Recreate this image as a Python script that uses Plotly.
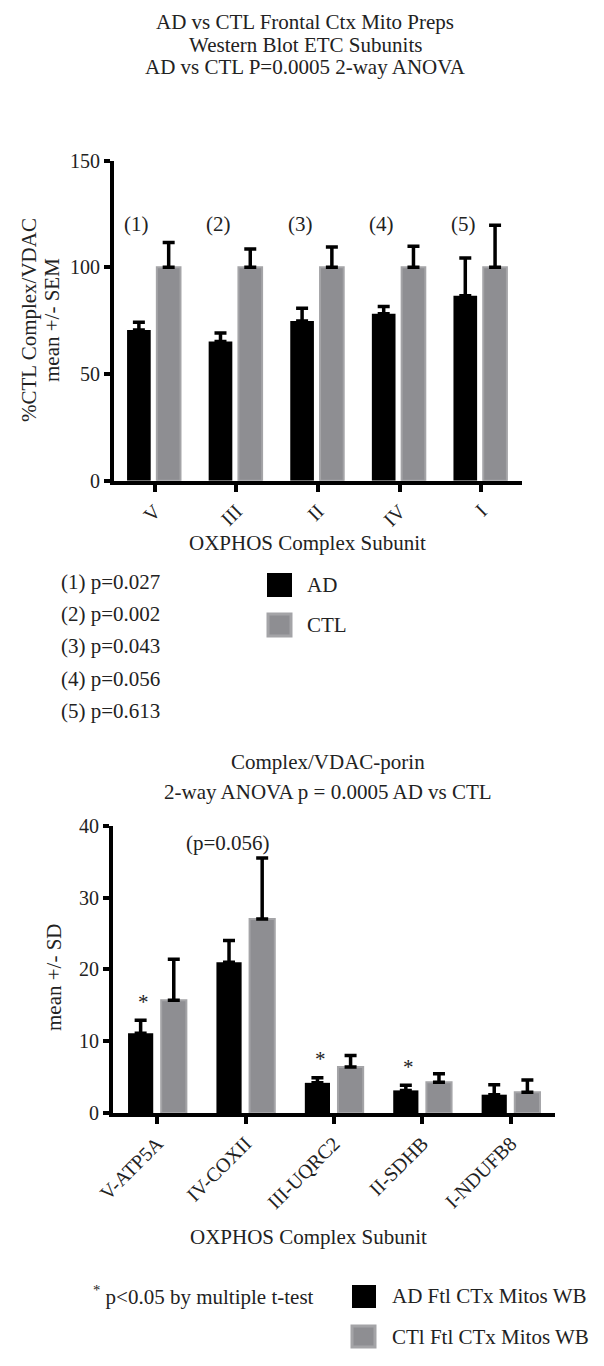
import plotly.graph_objects as go

W, H = 604, 1366
FONT = "Liberation Serif"

# ---------- data: top chart ----------
top_categories = ["V", "III", "II", "IV", "I"]
top_ad = [70.6, 65.3, 74.9, 78.3, 86.7]
top_ad_err = [3.7, 3.9, 5.9, 3.4, 17.7]
top_ctl = [100, 100, 100, 100, 100]
top_ctl_err = [11.7, 8.6, 9.6, 9.9, 19.7]
top_marks = ["(1)", "(2)", "(3)", "(4)", "(5)"]
top_pvalues = ["(1) p=0.027", "(2) p=0.002", "(3) p=0.043", "(4) p=0.056", "(5) p=0.613"]

# ---------- data: bottom chart ----------
bot_categories = ["V-ATP5A", "IV-COXII", "III-UQRC2", "II-SDHB", "I-NDUFB8"]
bot_ad = [11.1, 21.0, 4.2, 3.15, 2.55]
bot_ad_err = [1.8, 3.0, 0.7, 0.7, 1.4]
bot_ctl = [15.7, 27.0, 6.4, 4.27, 2.9]
bot_ctl_err = [5.7, 8.5, 1.6, 1.2, 1.7]
bot_star = ["*", "", "*", "*", ""]

BLACK = "#000000"
GRAY = "#8e8e92"
GRAY_EDGE = "#a4a4a7"


def px_x(px):
    return px / W


def px_y(py):
    return 1 - py / H


fig = go.Figure()


def add_pair(cats, ad, ad_err, ctl, ctl_err, xa, ya, ad_off, ctl_off, wd):
    fig.add_trace(go.Bar(
        x=cats, y=ad, xaxis=xa, yaxis=ya, width=wd, offset=ad_off,
        marker=dict(color=BLACK, line=dict(color=BLACK, width=0)),
        error_y=dict(type="data", symmetric=False, array=ad_err,
                     arrayminus=[0] * len(ad_err), color=BLACK,
                     thickness=3.5, width=6),
        showlegend=False, hoverinfo="skip"))
    fig.add_trace(go.Bar(
        x=cats, y=ctl, xaxis=xa, yaxis=ya, width=wd, offset=ctl_off,
        marker=dict(color=GRAY, line=dict(color=GRAY_EDGE, width=2)),
        error_y=dict(type="data", symmetric=False, array=ctl_err,
                     arrayminus=[0] * len(ctl_err), color=BLACK,
                     thickness=3.5, width=6),
        showlegend=False, hoverinfo="skip"))


add_pair(top_categories, top_ad, top_ad_err, top_ctl, top_ctl_err, "x", "y",
         -0.34, 0.025, 0.29)
add_pair(bot_categories, bot_ad, bot_ad_err, bot_ctl, bot_ctl_err, "x2", "y2",
         -0.33, 0.045, 0.285)

axis_common = dict(
    showline=True, linecolor=BLACK, linewidth=4, ticks="outside",
    tickcolor=BLACK, tickwidth=4, showgrid=False, zeroline=False,
    automargin=False, fixedrange=True,
    tickfont=dict(family=FONT, size=20, color="#222"),
)

fig.update_layout(
    template="none",
    width=W, height=H, margin=dict(l=0, r=0, t=0, b=0, pad=0),
    paper_bgcolor="white", plot_bgcolor="white", barmode="overlay",
    font=dict(family=FONT, color="#222"),
    xaxis=dict(domain=[px_x(114), px_x(522)], anchor="y", range=[-0.5, 4.5],
               tickangle=-45, ticklen=7, **axis_common),
    yaxis=dict(domain=[px_y(480.7), px_y(160.7)], anchor="x", range=[0, 150],
               tickvals=[0, 50, 100, 150], ticklen=6, **axis_common),
    xaxis2=dict(domain=[px_x(113), px_x(555)], anchor="y2", range=[-0.5, 4.5],
                tickangle=-45, ticklen=7, **axis_common),
    yaxis2=dict(domain=[px_y(1113), px_y(825.7)], anchor="x2", range=[0, 40],
                tickvals=[0, 10, 20, 30, 40], ticklen=6, **axis_common),
)

ann = []
TXT = dict(family=FONT, size=21, color="#222")


def pann(text, x, y, xanchor="center", yanchor="middle", font=TXT, **kw):
    ann.append(dict(text=text, x=px_x(x), y=px_y(y), xref="paper", yref="paper",
                    xanchor=xanchor, yanchor=yanchor, showarrow=False,
                    font=font, **kw))


# titles
pann("AD vs CTL Frontal Ctx Mito Preps", 305, 22)
pann("Western Blot ETC Subunits", 305, 44.5)
pann("AD vs CTL P=0.0005 2-way ANOVA", 305, 67)
pann("Complex/VDAC-porin", 328, 762)
pann("2-way ANOVA p = 0.0005 AD vs CTL", 328, 792)
# axis titles
pann("%CTL Complex/VDAC", 29, 320, textangle=-90)
pann("mean +/- SEM", 52, 320, textangle=-90)
pann("OXPHOS Complex Subunit", 307, 543)
pann("mean +/- SD", 54, 977, textangle=-90)
pann("OXPHOS Complex Subunit", 308, 1237)

# top markers
for c, m in zip(top_categories, top_marks):
    ann.append(dict(text=m, x=c, y=120.3, xref="x", yref="y", xshift=-18,
                    xanchor="center", yanchor="middle", showarrow=False, font=TXT))
# bottom stars
for c, s, v, e in zip(bot_categories, bot_star, bot_ad, bot_ad_err):
    if s:
        ann.append(dict(text=s, x=c, y=v + e + 2.6, xref="x2", yref="y2", xshift=-14,
                        xanchor="center", yanchor="middle", showarrow=False, font=TXT))
ann.append(dict(text="(p=0.056)", x=bot_categories[1], y=37.6, xref="x2", yref="y2",
                xshift=-18, xanchor="center", yanchor="middle", showarrow=False, font=TXT))

# p-value list
for i, t in enumerate(top_pvalues):
    pann(t, 59, 582 + 32.2 * i, xanchor="left")

# legend texts
pann("AD", 305, 585, xanchor="left")
pann("CTL", 305, 625, xanchor="left")
pann("<sup>*</sup> p<0.05 by multiple t-test", 91, 1295, xanchor="left")
pann("AD Ftl CTx Mitos WB", 390, 1296, xanchor="left")
pann("CTl Ftl CTx Mitos WB", 390, 1337, xanchor="left")

fig.update_layout(annotations=ann)


# legend swatches
def swatch(x0, y0, x1, y1, fill, edge):
    fig.add_shape(type="rect", xref="paper", yref="paper",
                  x0=px_x(x0), x1=px_x(x1), y0=px_y(y1), y1=px_y(y0),
                  fillcolor=fill, line=dict(color=edge, width=3 if edge != fill else 0))


swatch(267, 573, 292, 597, BLACK, BLACK)
swatch(268, 614, 291, 636, GRAY, GRAY_EDGE)
swatch(352, 1285, 376, 1308, BLACK, BLACK)
swatch(352, 1326, 375, 1347, GRAY, GRAY_EDGE)

fig.write_html("out.html", config={"displayModeBar": False},
               post_script="document.body.style.margin='0';document.body.style.overflow='hidden';")
